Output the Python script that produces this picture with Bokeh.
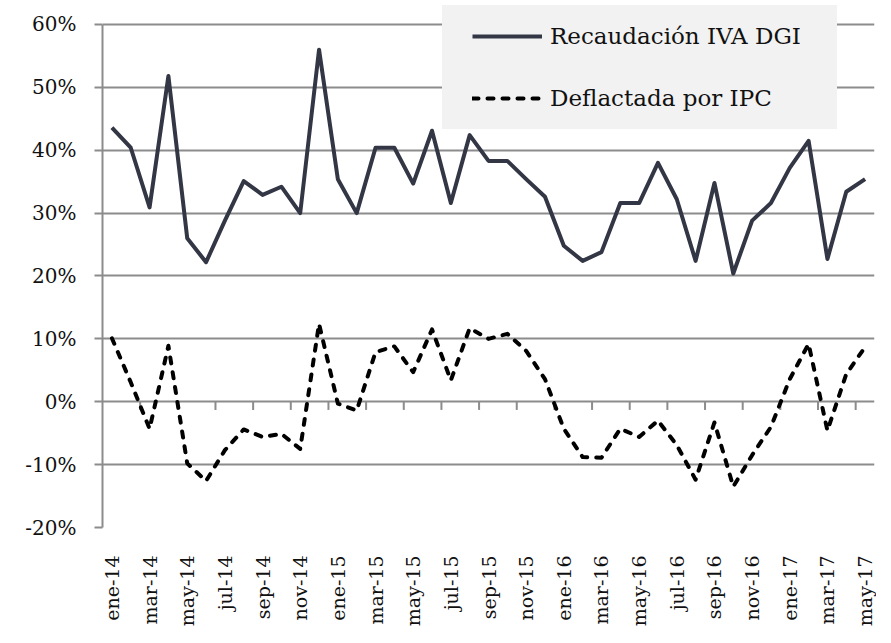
from bokeh.plotting import figure
from bokeh.models import (FixedTicker, Legend, LegendItem, ColumnDataSource)
from bokeh.embed import file_html
from bokeh.resources import INLINE

months = ["ene", "feb", "mar", "abr", "may", "jun", "jul", "ago", "sep", "oct", "nov", "dic"]
periods = [f"{months[i % 12]}-{14 + i // 12}" for i in range(41)]

recaudacion = [43.6, 40.4, 30.9, 51.8, 26.0, 22.2, 28.8, 35.1, 32.9, 34.2,
               30.0, 56.0, 35.4, 30.0, 40.4, 40.4, 34.7, 43.1, 31.6, 42.4,
               38.3, 38.3, 35.4, 32.6, 24.8, 22.4, 23.8, 31.6, 31.6, 38.0,
               32.2, 22.4, 34.8, 20.4, 28.8, 31.6, 37.2, 41.5, 22.7, 33.4, 35.4]
deflactada = [10.1, 3.1, -4.3, 8.9, -9.8, -12.6, -7.7, -4.4, -5.6, -5.1,
              -7.5, 12.4, -0.3, -1.4, 7.9, 8.8, 4.7, 11.5, 3.4, 11.7,
              10.0, 10.8, 8.1, 3.6, -4.3, -8.8, -8.9, -4.3, -5.6, -3.0,
              -6.9, -12.4, -3.3, -13.5, -8.5, -4.0, 3.6, 9.2, -4.6, 4.4, 8.7]
y_ticks = [-20, -10, 0, 10, 20, 30, 40, 50, 60]

idx = list(range(len(periods)))
src = ColumnDataSource(dict(x=idx, a=recaudacion, b=deflactada))

# a little headroom above 60% so the legend box can sit above the top gridline
p = figure(width=876, height=635, output_backend="svg", toolbar_location=None,
           x_range=(-0.5, len(periods) - 0.5), y_range=(-20, 63.02),
           min_border_left=102, min_border_right=2, min_border_top=5, min_border_bottom=108)
p.outline_line_color = None
p.background_fill_color = "white"

grid_col = "#8c8c8c"
font = "DejaVu Serif"

# y axis
p.yaxis.ticker = FixedTicker(ticks=y_ticks)
p.yaxis.bounds = (y_ticks[0], y_ticks[-1])
p.yaxis.major_label_overrides = {t: f"{t}%" for t in y_ticks}
p.yaxis.axis_line_color = grid_col
p.yaxis.axis_line_width = 2
p.yaxis.major_tick_line_color = grid_col
p.yaxis.major_tick_line_width = 2
p.yaxis.major_tick_out = 8
p.yaxis.major_tick_in = 0
p.yaxis.minor_tick_line_color = None
p.yaxis.major_label_text_font = font
p.yaxis.major_label_text_font_size = "20px"
p.yaxis.major_label_text_color = "#111111"
p.yaxis.major_label_standoff = 18

p.ygrid.ticker = FixedTicker(ticks=y_ticks)
p.ygrid.grid_line_color = grid_col
p.ygrid.grid_line_width = 2
p.xgrid.grid_line_color = None

# x axis
even = idx[::2]
p.xaxis.ticker = FixedTicker(ticks=even)
p.xaxis.major_label_overrides = {i: periods[i] for i in even}
p.xaxis.major_label_orientation = 3.14159265 / 2
p.xaxis.axis_line_color = None
p.xaxis.major_tick_line_color = None
p.xaxis.minor_tick_line_color = None
p.xaxis.major_label_text_font = font
p.xaxis.major_label_text_font_size = "19px"
p.xaxis.major_label_text_color = "#111111"
p.xaxis.major_label_standoff = 22

# small category-boundary ticks on the 0% line
tick_x = [i + 0.5 for i in idx[1:-1:2]]
p.segment(x0=tick_x, x1=tick_x, y0=[0] * len(tick_x), y1=[-1.3] * len(tick_x),
          line_color=grid_col, line_width=2)

r1 = p.line("x", "a", source=src, line_color="#333644", line_width=4, line_join="round")
r2 = p.line("x", "b", source=src, line_color="black", line_width=4, line_dash="6 9",
            line_cap="round", line_join="round")

legend = Legend(items=[LegendItem(label="Recaudación IVA DGI", renderers=[r1]),
                       LegendItem(label="Deflactada por IPC", renderers=[r2])],
                location=(340, 398), orientation="vertical")
legend.title = " "
legend.title_location = "left"
legend.title_text_font_size = "1px"
legend.title_standoff = 29
legend.background_fill_color = "#f2f2f2"
legend.background_fill_alpha = 1
legend.border_line_color = None
legend.label_text_font = font
legend.label_text_font_size = "23px"
legend.label_text_color = "#111111"
legend.glyph_width = 70
legend.glyph_height = 62
legend.label_height = 62
legend.label_standoff = 8
legend.padding = 0
legend.spacing = 0
legend.label_width = 287
legend.margin = 0
p.add_layout(legend, "center")

open("out.html", "w").write(file_html(p, INLINE))
